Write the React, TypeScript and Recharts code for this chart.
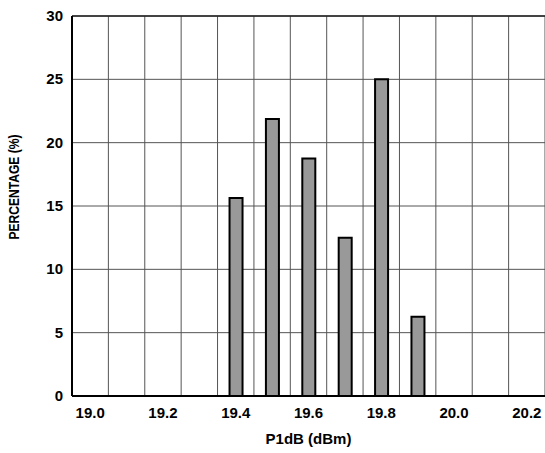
import {
  BarChart,
  Bar,
  XAxis,
  YAxis,
  CartesianGrid,
  ReferenceLine,
} from "recharts";

const bins = [19.4, 19.5, 19.6, 19.7, 19.8, 19.9];
const percentages = [15.625, 21.875, 18.75, 12.5, 25, 6.25];
const xTicks = [19.0, 19.2, 19.4, 19.6, 19.8, 20.0, 20.2];
const binEdges = [19.05, 19.15, 19.25, 19.35, 19.45, 19.55, 19.65, 19.75, 19.85, 19.95, 20.05, 20.15];
const yTicks = [0, 5, 10, 15, 20, 25, 30];

const data = bins.map((bin, i) => ({ bin, pct: percentages[i] }));

const font = "'Liberation Sans', Arial, sans-serif";

const XTick = ({ x, y, payload }: any) => (
  <text
    x={x}
    y={y + 16}
    textAnchor="middle"
    fill="#000"
    fontSize={15}
    fontWeight={700}
    fontFamily={font}
  >
    {Number(payload.value).toFixed(1)}
  </text>
);

const YTick = ({ x, y, payload }: any) => (
  <text
    x={x}
    y={y + 5}
    textAnchor="end"
    fill="#000"
    fontSize={15}
    fontWeight={700}
    fontFamily={font}
  >
    {payload.value}
  </text>
);

// axis titles drawn by hand so they can sit where the original has them
const XTitle = ({ viewBox }: any) => (
  <text
    x={viewBox.x + viewBox.width / 2}
    y={viewBox.y + 48}
    textAnchor="middle"
    fill="#000"
    fontSize={15}
    fontWeight={700}
    fontFamily={font}
  >
    P1dB (dBm)
  </text>
);

const YTitle = ({ viewBox }: any) => {
  const cx = 19;
  const cy = viewBox.y + viewBox.height / 2 - 19;
  return (
    <text
      x={cx}
      y={cy}
      transform={`rotate(-90, ${cx}, ${cy})`}
      textAnchor="middle"
      fill="#000"
      fontSize={14}
      fontWeight={700}
      fontFamily={font}
      textLength={105}
      lengthAdjust="spacingAndGlyphs"
    >
      PERCENTAGE (%)
    </text>
  );
};

const App = () => {
  return (
    <div style={{ position: "absolute", left: 0, top: 0, background: "#fff" }}>
      <BarChart
        width={545}
        height={453}
        data={data}
        margin={{ top: 16, right: 0, bottom: 0, left: 0 }}
      >
        {/* grid lines sit on the bin edges, labels sit in the bins */}
        <CartesianGrid xAxisId="edges" stroke="#555" strokeWidth={1} />
        <XAxis
          dataKey="bin"
          type="number"
          domain={[18.95, 20.25]}
          ticks={xTicks}
          interval={0}
          tick={<XTick />}
          tickLine={false}
          tickMargin={0}
          axisLine={{ stroke: "#000", strokeWidth: 2 }}
          height={57}
          allowDataOverflow
          label={<XTitle />}
        />
        <XAxis
          xAxisId="edges"
          dataKey="bin"
          type="number"
          domain={[18.95, 20.25]}
          ticks={binEdges}
          interval={0}
          hide
          allowDataOverflow
        />
        <YAxis
          domain={[0, 30]}
          ticks={yTicks}
          interval={0}
          tick={<YTick />}
          tickLine={false}
          tickMargin={3}
          axisLine={{ stroke: "#000", strokeWidth: 2 }}
          width={72}
          label={<YTitle />}
        />
        <ReferenceLine y={30} stroke="#222" strokeWidth={1.5} />
        <Bar
          dataKey="pct"
          fill="#999999"
          stroke="#000"
          strokeWidth={2}
          barSize={13}
          isAnimationActive={false}
        />
      </BarChart>
    </div>
  );
};

export default App;
